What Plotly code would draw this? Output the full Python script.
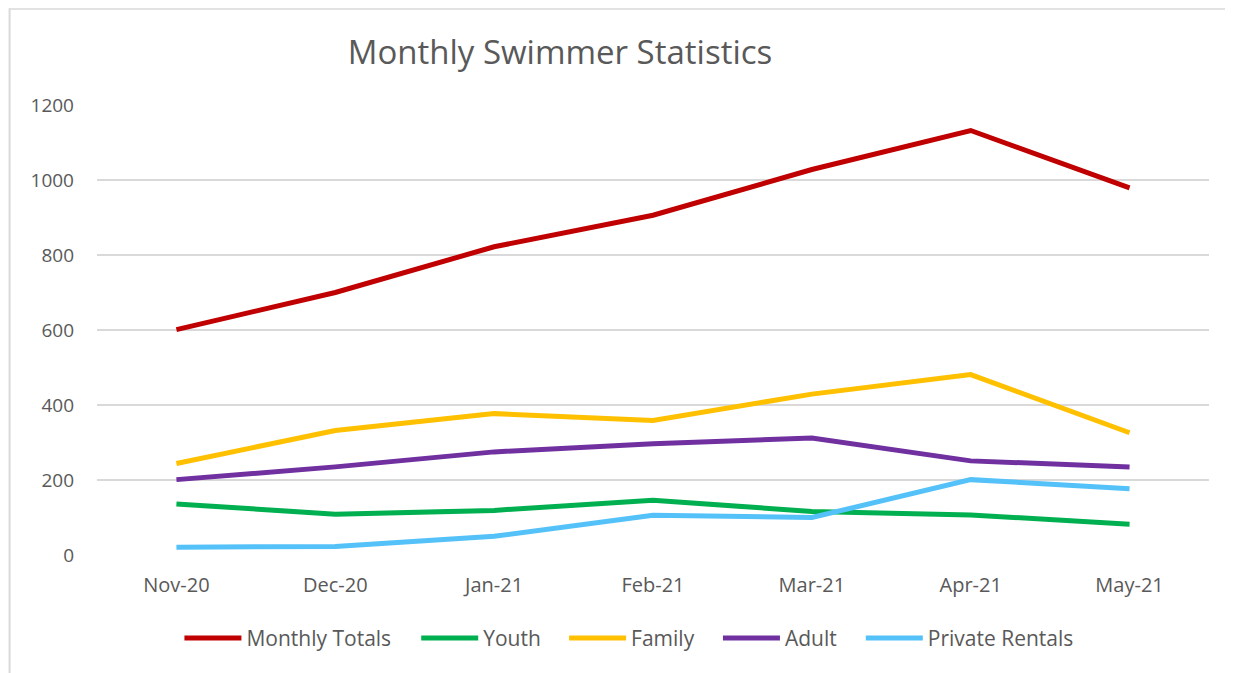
import plotly.graph_objects as go

months = ["Nov-20", "Dec-20", "Jan-21", "Feb-21", "Mar-21", "Apr-21", "May-21"]
monthly_totals = [601, 700, 822, 906, 1028, 1132, 979]
youth = [136, 109, 119, 146, 116, 107, 82]
family = [244, 332, 377, 359, 429, 481, 326]
adult = [201, 235, 275, 297, 312, 251, 235]
private_rentals = [21, 23, 50, 106, 100, 201, 177]

series = [
    ("Monthly Totals", monthly_totals, "#C00000"),
    ("Youth", youth, "#00B050"),
    ("Family", family, "#FFC000"),
    ("Adult", adult, "#7030A0"),
    ("Private Rentals", private_rentals, "#55C1F9"),
]

# page has an 8px body margin; work in figure coordinates
OFF = 8
W, H = 1233 - OFF, 673 - OFF
L, R, T, B = 96.5 - OFF, 1209.5 - OFF, 104.7 - OFF, 554.7 - OFF
legend_starts = [184, 421, 569, 723, 866]
LEG_Y = 638 - OFF

font_family = "Open Sans"
text_color = "#595959"


def px_x(x):
    return (x - L) / (R - L)


def px_y(y):
    return (B - y) / (B - T)


fig = go.Figure()
legend_layouts = {}
for i, (name, vals, color) in enumerate(series):
    lname = "legend" if i == 0 else f"legend{i + 1}"
    fig.add_trace(go.Scatter(
        x=list(range(len(months))), y=vals, name=name, mode="lines",
        line=dict(color=color, width=5), legend=lname,
    ))
    legend_layouts[lname] = dict(
        orientation="h", x=px_x(legend_starts[i] - OFF - 5), xanchor="left",
        y=px_y(LEG_Y), yanchor="middle",
        font=dict(family=font_family, size=21, color=text_color),
        bgcolor="rgba(0,0,0,0)", itemwidth=57, borderwidth=0,
    )

fig.update_layout(
    width=W, height=H,
    margin=dict(l=L, r=W - R, t=T, b=H - B, pad=0),
    paper_bgcolor="white", plot_bgcolor="white",
    font=dict(family=font_family, size=19, color=text_color),
    title=dict(text="Monthly Swimmer Statistics", x=(560 - OFF) / W, xref="container",
               xanchor="center", y=1 - (52 - OFF) / H, yref="container", yanchor="middle",
               font=dict(family=font_family, size=33, color=text_color)),
    xaxis=dict(
        range=[-0.5, 6.5], tickmode="array", tickvals=list(range(len(months))),
        ticktext=months, showgrid=False, zeroline=False, showline=False,
        ticks="", ticklabelstandoff=16, tickfont=dict(size=20),
    ),
    yaxis=dict(
        range=[0, 1200], tickmode="array", tickvals=[0, 200, 400, 600, 800, 1000, 1200],
        ticktext=["0", "200", "400", "600", "800", "1000", "1200"],
        showgrid=True, gridcolor="#D9D9D9", gridwidth=1.5,
        zeroline=False, showline=False, ticks="", ticklabelstandoff=22,
        tickfont=dict(size=19),
    ),
    showlegend=True,
    **legend_layouts,
)

# chart border (top and left edges visible in reference)
fig.add_shape(type="line", xref="paper", yref="paper",
              x0=px_x(1), x1=px_x(W + 5), y0=px_y(0.75), y1=px_y(0.75),
              line=dict(color="#D9D9D9", width=1.5), layer="below")
fig.add_shape(type="line", xref="paper", yref="paper",
              x0=px_x(1), x1=px_x(1), y0=px_y(0), y1=px_y(H + 5),
              line=dict(color="#D9D9D9", width=2), layer="below")

fig.write_html("out.html")
